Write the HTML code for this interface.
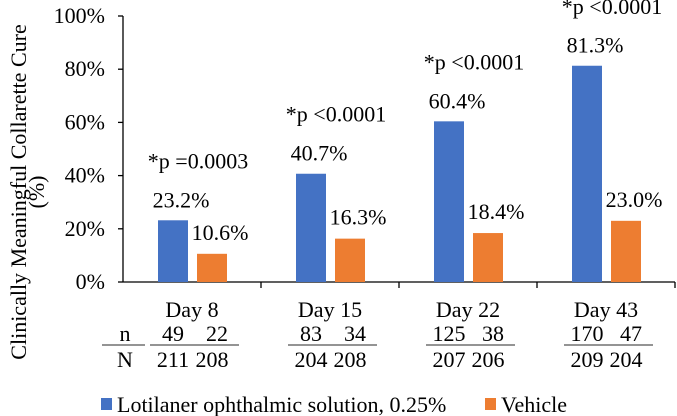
<!DOCTYPE html>
<html><head><meta charset="utf-8"><style>
body{margin:0;background:#fff}
svg{display:block}
svg text{font-family:"Liberation Serif","Times New Roman",serif}
</style></head><body>
<svg id="chart" width="677" height="416" viewBox="0 0 677 416" xmlns="http://www.w3.org/2000/svg"></svg>
<script>
const categories=["Day 8","Day 15","Day 22","Day 43"];
const lotilaner=[23.2,40.7,60.4,81.3];
const vehicle=[10.6,16.3,18.4,23.0];
const pLabels=["*p =0.0003","*p <0.0001","*p <0.0001","*p <0.0001"];
const nLot=[49,83,125,170];
const nVeh=[22,34,38,47];
const NLot=[211,204,207,209];
const NVeh=[208,208,206,204];
const yTicks=[0,20,40,60,80,100];

const svg=document.getElementById('chart');
const NS="http://www.w3.org/2000/svg";
const x0=123,gw=138,y0=282,yTop=16,FS=22;
const y=v=>y0-(v/100)*(y0-yTop);
function mk(tag,attrs,parent){const e=document.createElementNS(NS,tag);for(const k in attrs)e.setAttribute(k,attrs[k]);(parent||svg).appendChild(e);return e;}
function txt(s,x,yy,anchor,size,name){const t=mk('text',{x:x,y:yy,'text-anchor':anchor,'font-size':size,fill:'#000','font-family':'Liberation Serif, serif'});t.textContent=s;


return t;}

yTicks.forEach(v=>{
  txt(v+'%',105,y(v)+7,'end',FS,'y-tick-label');
  const l=mk('line',{x1:118,x2:123,y1:y(v),y2:y(v),stroke:'#000','stroke-width':1.3});
  
  
});
const ax=mk('line',{x1:x0,x2:x0,y1:yTop,y2:y0,stroke:'#000','stroke-width':1.3});


const xa=mk('line',{x1:x0,x2:x0+gw*categories.length,y1:y0,y2:y0,stroke:'#000','stroke-width':1.3});



const yt=txt('Clinically Meaningful Collarette Cure',0,0,'middle',FS,'y-axis-title');
yt.setAttribute('transform','translate(26,192) rotate(-90)');
const yt2=txt('(%)',0,0,'middle',FS,'y-axis-title-unit');
yt2.setAttribute('transform','translate(44,192) rotate(-90)');

categories.forEach((c,i)=>{
  const gx=x0+gw*i;
  const tk=mk('line',{x1:gx+gw,x2:gx+gw,y1:y0,y2:y0+6,stroke:'#000','stroke-width':1.3});
  
  
  const bx=gx+35,bw=30,ox=gx+74;
  const b=mk('rect',{x:bx,y:y(lotilaner[i]),width:bw,height:y0-y(lotilaner[i]),fill:'#4472c4'});
  
  
  const o=mk('rect',{x:ox,y:y(vehicle[i]),width:bw,height:y0-y(vehicle[i]),fill:'#ed7d31'});
  
  
  txt(lotilaner[i].toFixed(1)+'%',bx+bw/2+8,y(lotilaner[i])-13,'middle',FS,'value-label-lotilaner');
  txt(pLabels[i],bx+bw/2+25,y(lotilaner[i])-52,'middle',FS,'p-value-label');
  txt(vehicle[i].toFixed(1)+'%',ox+bw/2+8,y(vehicle[i])-14,'middle',FS,'value-label-vehicle');
  txt(c,gx+gw/2,317,'middle',FS,'category-label');
  txt(String(nLot[i]),bx+bw/2,341,'middle',FS,'n-lotilaner');
  txt(String(nVeh[i]),ox+bw/2+5,341,'middle',FS,'n-vehicle');
  const fl=mk('line',{x1:gx+27,x2:gx+116,y1:345,y2:345,stroke:'#555','stroke-width':1.2});
  
  
  txt(String(NLot[i]),bx+bw/2,367,'middle',FS,'N-lotilaner');
  txt(String(NVeh[i]),ox+bw/2,367,'middle',FS,'N-vehicle');
});
txt('n',125,341,'middle',FS,'n-row-label');
txt('N',125,367,'middle',FS,'N-row-label');
const sl=mk('line',{x1:102,x2:145,y1:345,y2:345,stroke:'#555','stroke-width':1.2});



const l1=mk('rect',{x:101,y:398,width:11,height:12,fill:'#4472c4'});


txt('Lotilaner ophthalmic solution, 0.25%',117,412,'start',FS,'legend-entry-lotilaner');
const l2=mk('rect',{x:485,y:398,width:11,height:12,fill:'#ed7d31'});


txt('Vehicle',501,412,'start',FS,'legend-entry-vehicle');
</script>
</body></html>
